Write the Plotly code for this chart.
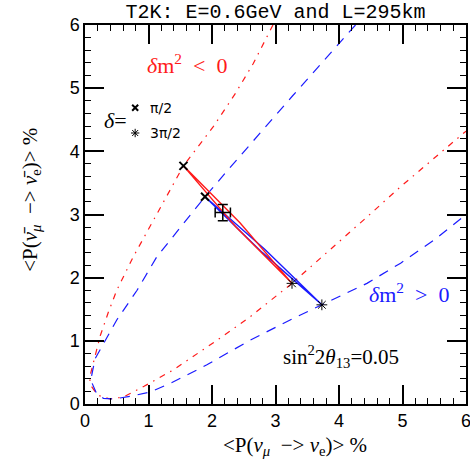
import plotly.graph_objects as go

# dash-dot red curve: delta m^2 < 0 (upper branch delta=pi/2, lower branch delta=3pi/2)
neg_x = [2.96, 2.65, 2.37, 2.02, 1.55, 1.10, 0.76, 0.50, 0.37, 0.24, 0.13, 0.07,
         0.10, 0.20, 0.39, 0.60, 0.93, 1.39, 2.08, 2.60, 3.26, 3.92, 4.44, 4.97, 5.49, 6.00]
neg_y = [6.00, 5.39, 4.92, 4.39, 3.77, 2.96, 2.33, 1.80, 1.46, 1.08, 0.67, 0.41,
         0.28, 0.14, 0.08, 0.11, 0.28, 0.54, 1.01, 1.38, 1.91, 2.49, 2.96, 3.44, 3.89, 4.32]

# dashed blue curve: delta m^2 > 0
pos_x = [4.26, 3.27, 2.29, 1.89, 1.13, 0.82, 0.50, 0.32, 0.16, 0.09, 0.18, 0.29,
         0.45, 0.71, 1.03, 1.37, 1.92, 2.60, 3.23, 3.73, 4.44, 4.97, 5.49, 6.00]
pos_y = [6.00, 4.88, 3.75, 3.28, 2.33, 1.80, 1.33, 1.01, 0.72, 0.38, 0.17, 0.09,
         0.08, 0.12, 0.19, 0.34, 0.62, 1.01, 1.33, 1.57, 1.91, 2.23, 2.59, 3.00]

# narrow delta ellipses at fixed theta13
ell_neg_x = [1.55, 2.44, 3.26, 2.37, 1.55]
ell_neg_y = [3.77, 2.87, 1.91, 2.81, 3.77]
ell_pos_x = [1.89, 2.83, 3.73, 2.79, 1.89]
ell_pos_y = [3.28, 2.45, 1.57, 2.40, 3.28]

# delta = pi/2 and 3pi/2 points
pi2_x = [1.55, 1.89]
pi2_y = [3.77, 3.28]
pi32_x = [3.26, 3.73]
pi32_y = [1.91, 1.57]

# measured point with errors
meas_x, meas_y = [2.17], [3.03]
meas_ex, meas_ey = [0.12], [0.13]

RED = "#ff1a1a"
BLUE = "#1a1aff"
SERIF = "Liberation Serif"

fig = go.Figure()

fig.add_trace(go.Scatter(x=neg_x, y=neg_y, mode="lines",
                         line=dict(color=RED, width=1.2, dash="6px,6px,1.5px,6px")))
fig.add_trace(go.Scatter(x=pos_x, y=pos_y, mode="lines",
                         line=dict(color=BLUE, width=1.2, dash="10px,8px")))
fig.add_trace(go.Scatter(x=ell_pos_x, y=ell_pos_y, mode="lines",
                         line=dict(color=BLUE, width=1.4)))
fig.add_trace(go.Scatter(x=ell_neg_x, y=ell_neg_y, mode="lines",
                         line=dict(color=RED, width=1.4)))

fig.add_trace(go.Scatter(x=meas_x, y=meas_y, mode="markers",
                         marker=dict(size=1, color="black"),
                         error_x=dict(type="data", array=meas_ex, color="black", thickness=1.5, width=5),
                         error_y=dict(type="data", array=meas_ey, color="black", thickness=1.5, width=5)))

fig.add_trace(go.Scatter(x=pi2_x, y=pi2_y, mode="markers",
                         marker=dict(symbol="x-thin", size=8, line=dict(color="black", width=2))))
fig.add_trace(go.Scatter(x=pi32_x, y=pi32_y, mode="markers",
                         marker=dict(symbol="asterisk", size=9, line=dict(color="black", width=1))))

# legend-like key in the upper left
fig.add_trace(go.Scatter(x=[0.79], y=[4.69], mode="markers",
                         marker=dict(symbol="x-thin", size=6, line=dict(color="black", width=2))))
fig.add_trace(go.Scatter(x=[0.79], y=[4.29], mode="markers",
                         marker=dict(symbol="asterisk", size=7, line=dict(color="black", width=1))))

annotations = [
    dict(x=0.48, y=4.49, text="<i>δ</i>=", font=dict(size=22, family=SERIF, color="black")),
    dict(x=0.99, y=4.69, text="π/2", xanchor="left", font=dict(size=14, family="DejaVu Sans", color="black")),
    dict(x=0.99, y=4.29, text="3π/2", xanchor="left", font=dict(size=14, family="DejaVu Sans", color="black")),
    dict(x=1.6, y=5.39, text="<i>δ</i>m<sup>2</sup>&nbsp; &lt;&nbsp; 0",
         font=dict(size=22, family=SERIF, color=RED)),
    dict(x=5.10, y=1.76, text="<i>δ</i>m<sup>2</sup>&nbsp; &gt;&nbsp; 0",
         font=dict(size=22, family=SERIF, color=BLUE)),
    dict(x=4.03, y=0.75, text="sin<sup>2</sup>2<i>θ</i><sub>13</sub>=0.05",
         font=dict(size=21, family=SERIF, color="black")),
]
for a in annotations:
    a.update(xref="x", yref="y", showarrow=False)

fig.add_annotation(x=0.55, y=-0.112, xref="paper", yref="paper", showarrow=False, yanchor="middle",
                   text="&lt;P(<i>ν</i><sub><i>μ</i></sub>&nbsp; −&gt; <i>ν</i><sub>e</sub>)&gt; %",
                   font=dict(size=21, family=SERIF, color="black"))
fig.add_annotation(x=-0.18, y=0.54, xref="paper", yref="paper", showarrow=False, textangle=-90,
                   text="&lt;P(<i>ν̄</i><sub><i>μ</i></sub>&nbsp; −&gt; <i>ν̄</i><sub>e</sub>)&gt; %",
                   font=dict(size=21, family=SERIF, color="black"))
fig.update_layout(annotations=list(fig.layout.annotations) + annotations)

axis_common = dict(
    range=[0, 6], dtick=1, showgrid=False, zeroline=False, automargin=False,
    showline=True, linecolor="black", linewidth=1.5, mirror="ticks",
    ticks="inside", ticklen=19, tickwidth=1.5, tickcolor="black",
    minor=dict(dtick=0.2, ticks="inside", ticklen=6, tickwidth=1.2, tickcolor="black"),
    tickfont=dict(size=18, family="Liberation Sans", color="black"),
    ticklabeloverflow="allow",
)

fig.update_layout(
    width=470, height=463,
    margin=dict(l=85, r=4, t=25, b=59),
    plot_bgcolor="white", paper_bgcolor="white",
    showlegend=False,
    title=dict(text="T2K: E=0.6GeV and L=295km", x=0.586, xanchor="center",
               y=1 - 11 / 463, yanchor="middle",
               font=dict(size=20, family="Liberation Mono", color="black")),
    xaxis=axis_common,
    yaxis=axis_common,
)

# drop the default page margin so the figure sits at the window's corner
fig.write_html("out.html", config={"displayModeBar": False},
               post_script="document.body.style.margin='0';")
